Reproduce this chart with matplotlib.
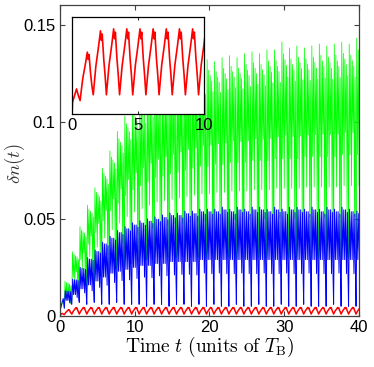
import matplotlib.pyplot as plt
import numpy as np

plt.rcParams['font.family'] = ['Liberation Sans', 'DejaVu Sans']
plt.rcParams['mathtext.fontset'] = 'cm'

# one oscillation per Bloch period; each cycle starts at a sharp minimum
cycle_start = [0.6 + k for k in range(40)]

# red (weakest driving): minima and maxima of each cycle
red_start_t = [0.0, 0.02, 0.15, 0.33, 0.45]
red_start_v = [0.0001, 0.0006, 0.0009, 0.0013, 0.0010]
red_low = [0.0007] + [0.0010] * 39
red_high = [0.0032, 0.0043] + [0.0044] * 38

# blue: sharp dips, lower edge of the dense band, top of the band
blue_start_t = [0.0, 0.1, 0.3, 0.45]
blue_start_v = [0.0005, 0.004, 0.007, 0.009]
blue_dip = [0.004, 0.006, 0.007, 0.006, 0.007, 0.006, 0.006, 0.007, 0.006, 0.006,
            0.006, 0.005, 0.006, 0.006, 0.005, 0.006, 0.006, 0.005, 0.006, 0.005,
            0.006, 0.005, 0.005, 0.006, 0.005, 0.005, 0.006, 0.005, 0.005, 0.006,
            0.005, 0.005, 0.006, 0.005, 0.005, 0.005, 0.006, 0.005, 0.005, 0.005]
blue_band = [0.008, 0.011, 0.014, 0.016, 0.018, 0.020, 0.022, 0.023, 0.024, 0.025,
             0.026, 0.026, 0.027, 0.027, 0.028, 0.028, 0.028, 0.028, 0.029, 0.029,
             0.029, 0.029, 0.029, 0.029, 0.029, 0.029, 0.029, 0.029, 0.029, 0.029,
             0.029, 0.029, 0.029, 0.029, 0.029, 0.029, 0.029, 0.029, 0.029, 0.029]
blue_top = [0.013, 0.019, 0.025, 0.030, 0.034, 0.038, 0.041, 0.044, 0.046, 0.048,
            0.049, 0.050, 0.051, 0.052, 0.053, 0.053, 0.054, 0.054, 0.055, 0.055,
            0.055, 0.056, 0.055, 0.056, 0.055, 0.056, 0.056, 0.055, 0.056, 0.055,
            0.056, 0.056, 0.055, 0.056, 0.055, 0.056, 0.055, 0.056, 0.055, 0.054]

# green (strongest driving)
green_start_t = [0.0, 0.2, 0.45]
green_start_v = [0.002, 0.005, 0.008]
green_dip = [0.004, 0.008, 0.012, 0.015, 0.018, 0.020, 0.022, 0.024, 0.026, 0.027,
             0.028, 0.029, 0.030, 0.030, 0.030, 0.030, 0.030, 0.030, 0.030, 0.030,
             0.030, 0.030, 0.030, 0.030, 0.030, 0.030, 0.030, 0.030, 0.030, 0.030,
             0.030, 0.030, 0.030, 0.030, 0.030, 0.030, 0.030, 0.030, 0.030, 0.030]
green_band = [0.010, 0.020, 0.029, 0.037, 0.043, 0.049, 0.054, 0.058, 0.062, 0.065,
              0.067, 0.069, 0.071, 0.072, 0.073, 0.074, 0.075, 0.076, 0.077, 0.077,
              0.078, 0.078, 0.079, 0.079, 0.079, 0.080, 0.080, 0.080, 0.081, 0.081,
              0.081, 0.081, 0.082, 0.082, 0.082, 0.082, 0.082, 0.083, 0.083, 0.083]
green_top = [0.018, 0.033, 0.046, 0.057, 0.066, 0.076, 0.085, 0.095, 0.103, 0.109,
             0.113, 0.117, 0.119, 0.122, 0.124, 0.126, 0.128, 0.129, 0.130, 0.132,
             0.131, 0.133, 0.134, 0.133, 0.135, 0.136, 0.135, 0.137, 0.137, 0.141,
             0.138, 0.139, 0.138, 0.139, 0.140, 0.139, 0.140, 0.141, 0.140, 0.143]

# shape of one cycle: (time offset, weight of dip, weight of band, weight of top)
red_shape = [(0.0, 1, 0, 0), (0.2, 0.55, 0, 0.45), (0.4, 0.25, 0, 0.75),
             (0.55, 0, 0, 1), (0.62, 0.15, 0, 0.85), (0.68, 0.05, 0, 0.95),
             (0.8, 0.45, 0, 0.55), (0.9, 0.7, 0, 0.3)]
blue_shape = [(0.0, 1, 0, 0), (0.12, 0, 0, 1), (0.24, 0, 1, 0), (0.36, 0, 0.05, 0.95),
              (0.48, 0, 1, 0), (0.6, 0, 0.05, 0.95), (0.72, 0.3, 0.7, 0),
              (0.84, 0, 0.1, 0.9), (0.93, 0.4, 0.6, 0)]
green_shape = [(0.0, 1, 0, 0), (0.09, 0, 0, 1), (0.2, 0, 1, 0), (0.3, 0, 0.1, 0.9),
               (0.4, 0.3, 0.7, 0), (0.5, 0, 0.15, 0.85), (0.6, 0, 0.8, 0.2),
               (0.7, 0, 0.2, 0.8), (0.8, 0.6, 0.4, 0), (0.88, 0, 0.3, 0.7),
               (0.95, 0, 1, 0)]


def build(t0, v0, lows, bands, highs, shape):
    t = list(t0)
    v = list(v0)
    for k, s in enumerate(cycle_start):
        for dt, wd, wb, wt in shape:
            t.append(s + dt)
            v.append(wd * lows[k] + wb * bands[k] + wt * highs[k])
    return np.array(t), np.array(v)


tr, vr = build(red_start_t, red_start_v, red_low, red_low, red_high, red_shape)
tb, vb = build(blue_start_t, blue_start_v, blue_dip, blue_band, blue_top, blue_shape)
tg, vg = build(green_start_t, green_start_v, green_dip, green_band, green_top, green_shape)

fig = plt.figure(figsize=(3.74, 3.67), dpi=100)
ax = fig.add_axes([0.160, 0.139, 0.800, 0.847])
ax.plot(tg, vg, color='#00ff00', lw=0.55)
ax.plot(tb, vb, color='#0000ff', lw=0.7)
ax.plot(tr, vr, color='#ff0000', lw=1.1)

ax.set_xlim(0, 40)
ax.set_ylim(0, 0.16)
ax.set_xticks([0, 10, 20, 30, 40])
ax.set_yticks([0, 0.05, 0.1, 0.15])
ax.set_yticklabels(['0', '0.05', '0.1', '0.15'])
ax.tick_params(direction='in', length=3.5, width=0.8, labelsize=12, top=True,
               right=True, color='#404040', pad=3)
for sp in ax.spines.values():
    sp.set_color('#404040')
    sp.set_linewidth(0.9)
ax.set_xlabel(r'$\mathrm{Time}\ t\ (\mathrm{units\ of}\ T_\mathrm{B})$', fontsize=14,
              labelpad=0)
ax.set_ylabel(r'$\delta n(t)$', fontsize=13.5, color='#333333')
ax.yaxis.set_label_coords(-0.11, 0.49)

ins = fig.add_axes([0.193, 0.689, 0.352, 0.264])
ins.plot(tr, vr, color='#ff0000', lw=1.2)
ins.set_xlim(0, 10)
ins.set_ylim(0, 0.005)
ins.set_xticks([0, 5, 10])
ins.set_yticks([])
ins.tick_params(direction='in', length=2.5, width=0.6, labelsize=12, top=True, pad=3)
for sp in ins.spines.values():
    sp.set_color('black')
    sp.set_linewidth(0.9)

fig.savefig('out.png', dpi=100)
